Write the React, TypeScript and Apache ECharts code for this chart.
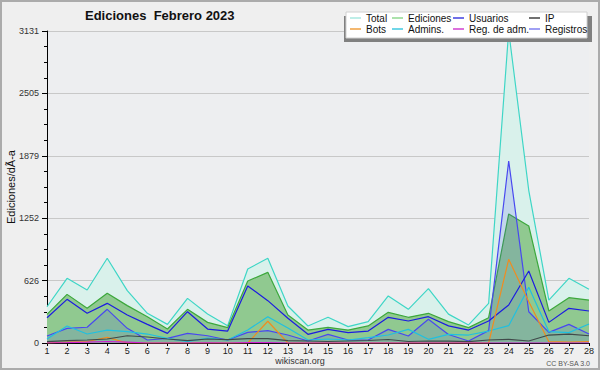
import React, { useEffect, useRef } from "react";
import * as echarts from "echarts";

const days = ["1","2","3","4","5","6","7","8","9","10","11","12","13","14","15","16","17","18","19","20","21","22","23","24","25","26","27","28"];
const yTicks = [0, 626, 1252, 1879, 2505, 3131];

const total = [364, 649, 532, 850, 525, 298, 187, 448, 291, 174, 743, 850, 371, 171, 258, 164, 214, 472, 338, 545, 290, 181, 398, 3131, 1530, 431, 649, 539];
const ediciones = [288, 488, 348, 499, 375, 264, 140, 338, 207, 154, 622, 709, 281, 130, 157, 130, 171, 308, 258, 298, 215, 154, 254, 1295, 1174, 321, 455, 431];
const usuarios = [254, 438, 298, 398, 281, 187, 97, 314, 140, 120, 572, 425, 248, 87, 137, 104, 120, 258, 221, 264, 172, 130, 221, 381, 722, 207, 348, 321];
const registros = [70, 147, 158, 338, 147, 30, 47, 97, 73, 30, 107, 124, 80, 20, 87, 30, 30, 137, 70, 238, 85, 20, 124, 1826, 314, 107, 187, 90];
const admins = [40, 171, 90, 130, 114, 90, 47, 13, 50, 30, 130, 264, 150, 30, 40, 30, 53, 80, 137, 37, 87, 80, 120, 174, 559, 115, 104, 191];
const bots = [0, 10, 15, 57, 0, 0, 0, 0, 0, 0, 0, 218, 0, 0, 0, 0, 0, 0, 0, 0, 0, 0, 0, 840, 415, 13, 10, 15];
const ip = [13, 23, 30, 40, 73, 60, 40, 23, 40, 33, 43, 43, 23, 20, 15, 20, 25, 35, 15, 20, 18, 13, 30, 37, 20, 80, 90, 73];
const regAdm = [0, 3, 8, 15, 8, 0, 0, 0, 2, 0, 3, 5, 0, 0, 0, 0, 0, 0, 0, 0, 0, 0, 0, 0, 0, 0, 0, 0];

const FONT = "Liberation Sans";

export default function App() {
  const ref = useRef<HTMLDivElement>(null);
  useEffect(() => {
    if (!ref.current) return;
    const chart = echarts.init(ref.current, null, { renderer: "svg" });
    const yMax = yTicks[yTicks.length - 1];
    const legendBase = {
      orient: "vertical",
      top: 12.5,
      padding: 0,
      itemGap: 0,
      itemWidth: 11,
      itemHeight: 1.5,
      icon: "rect",
      selectedMode: false,
      z: 10,
      textStyle: { fontFamily: FONT, fontSize: 10, color: "#111", lineHeight: 11, padding: [0, 0, 0, 0] },
    };
    const lineSeries = (name: string, data: number[], color: string, area?: string, z = 2) => ({
      name,
      type: "line",
      data,
      symbol: "none",
      showSymbol: false,
      z,
      lineStyle: { color, width: 1.2 },
      itemStyle: { color },
      areaStyle: area ? { color: area, opacity: 1 } : undefined,
    });
    chart.setOption({
      animation: false,
      backgroundColor: "#efefef",
      title: {
        text: "Ediciones  Febrero 2023",
        left: 85,
        top: 9,
        padding: 0,
        textStyle: { fontFamily: FONT, fontSize: 13, fontWeight: "bold", color: "#111" },
      },
      legend: [
        { ...legendBase, left: 350, data: [{ name: "Total", itemStyle: { color: "#a8e8e0" } }, { name: "Bots", itemStyle: { color: "#f0a040" } }] },
        { ...legendBase, left: 392, data: [{ name: "Ediciones", itemStyle: { color: "#90d890" } }, { name: "Admins.", itemStyle: { color: "#40c8e0" } }] },
        { ...legendBase, left: 453, data: [{ name: "Usuarios", itemStyle: { color: "#4040e0" } }, { name: "Reg. de adm.", itemStyle: { color: "#d040d0" } }] },
        { ...legendBase, left: 529, data: [{ name: "IP", itemStyle: { color: "#404040" } }, { name: "Registros", itemStyle: { color: "#8080f0" } }] },
      ],
      grid: {
        left: 47,
        right: 11,
        top: 31,
        bottom: 27,
        show: true,
        backgroundColor: "#edeef0",
        borderWidth: 0,
        containLabel: false,
        outerBoundsMode: "none",
      },
      xAxis: {
        type: "category",
        data: days,
        boundaryGap: false,
        axisLine: { lineStyle: { color: "#000", width: 1 } },
        axisTick: { show: true, length: 3, lineStyle: { color: "#000" } },
        axisLabel: { interval: 0, margin: 3, fontFamily: FONT, fontSize: 9, color: "#222" },
        splitLine: { show: false },
      },
      yAxis: {
        type: "value",
        min: 0,
        max: yMax,
        interval: yMax / 5,
        name: "Ediciones/dÃ-a",
        nameLocation: "middle",
        nameGap: 31,
        nameMoveOverlap: false,
        nameTextStyle: { fontFamily: FONT, fontSize: 11, color: "#111" },
        axisLine: { show: true, lineStyle: { color: "#000", width: 1 } },
        axisTick: { show: true, length: 5, lineStyle: { color: "#000" } },
        minorTick: { show: true, splitNumber: 4, length: 3, lineStyle: { color: "#000" } },
        axisLabel: {
          margin: 8,
          fontFamily: FONT,
          fontSize: 9,
          color: "#333",
          formatter: (v: number) => String(Math.round(v)),
        },
        splitLine: { show: true, lineStyle: { color: "#c8c8c8", width: 1 } },
      },
      series: [
        lineSeries("Total", total, "#3ed6c6", "#d9f1eb", 1),
        lineSeries("Ediciones", ediciones, "#3ca83c", "#90c990", 1),
        lineSeries("Registros", registros, "#4848f0", "rgba(64,64,240,0.15)", 2),
        lineSeries("Usuarios", usuarios, "#1c1ce0", undefined, 3),
        lineSeries("Admins.", admins, "#20c0e0", undefined, 3),
        lineSeries("Bots", bots, "#f08c20", undefined, 3),
        lineSeries("IP", ip, "#404a4a", undefined, 3),
        lineSeries("Reg. de adm.", regAdm, "#d020d0", undefined, 3),
      ],
      graphic: [
        { type: "rect", z: 5, shape: { x: 344, y: 16, width: 248, height: 26 }, style: { fill: "#808080" } },
        { type: "rect", z: 6, shape: { x: 346, y: 12, width: 241, height: 26 }, style: { fill: "#ffffff", stroke: "#d0d0d0", lineWidth: 1 } },
        { type: "text", z: 6, x: 300, y: 361, style: { text: "wikiscan.org", fontFamily: FONT, fontSize: 9, fill: "#333", align: "center", verticalAlign: "middle" } },
        { type: "text", z: 6, x: 590, y: 363, style: { text: "CC BY-SA 3.0", fontFamily: FONT, fontSize: 7, fill: "#555", align: "right", verticalAlign: "middle" } },
      ],
    });
    return () => chart.dispose();
  }, []);
  return (
    <div
      style={{
        position: "absolute",
        left: 0,
        top: 0,
        width: 600,
        height: 370,
        boxSizing: "border-box",
        border: "2px solid #ababab",
        background: "#efefef",
        overflow: "hidden",
      }}
    >
      <div ref={ref} style={{ position: "absolute", left: -2, top: -2, width: 600, height: 370 }} />
    </div>
  );
}
